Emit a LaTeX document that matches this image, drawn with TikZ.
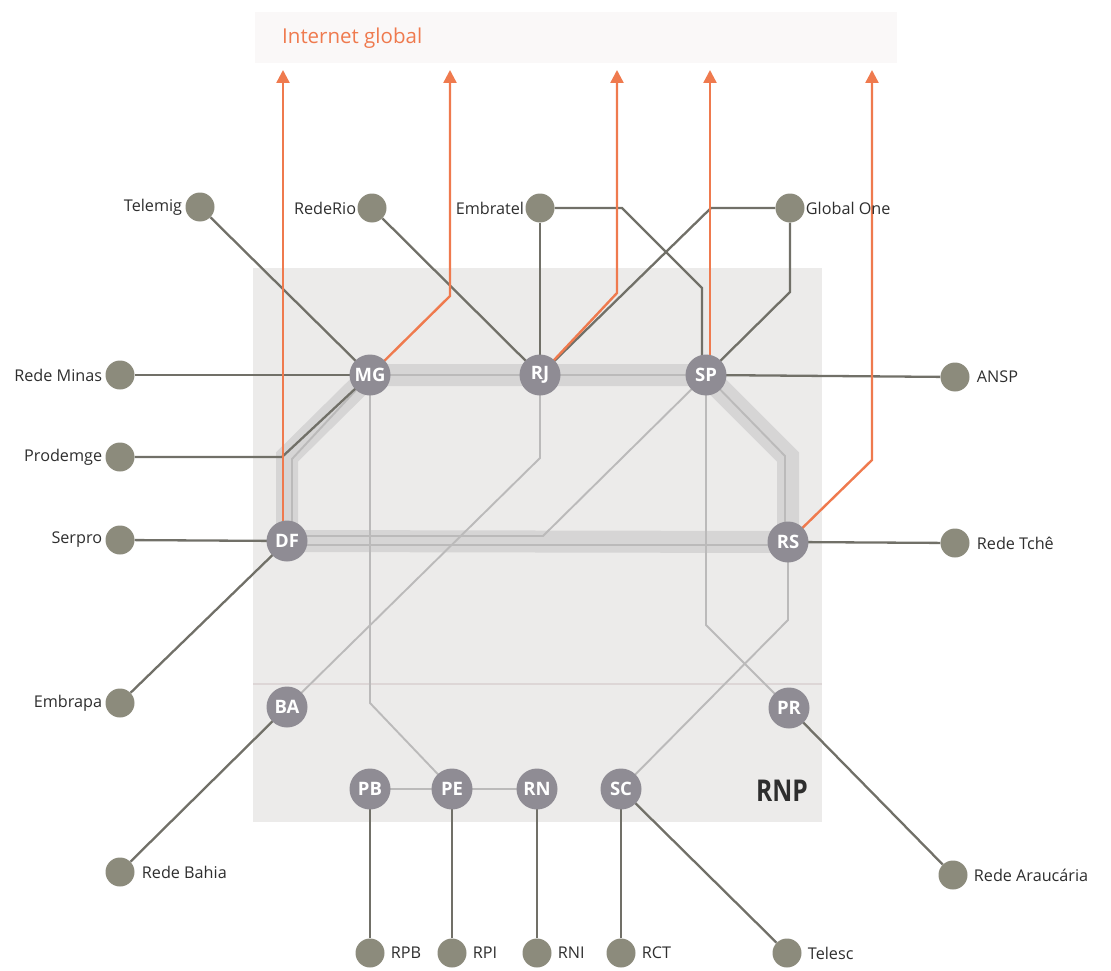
\documentclass[tikz,border=0pt]{standalone}
\usepackage{fontspec}
\setmainfont{Open Sans}
\usetikzlibrary{arrows.meta,calc}
\definecolor{boxgray}{HTML}{ECEBEA}
\definecolor{bandgray}{HTML}{D6D5D5}
\definecolor{thingray}{HTML}{BBBABA}
\definecolor{darkline}{HTML}{717068}
\definecolor{bbcol}{HTML}{8F8C94}
\definecolor{extcol}{HTML}{8C8B7C}
\definecolor{inetorange}{HTML}{EF7A4E}
\definecolor{labcol}{HTML}{2E2E2E}
\definecolor{topband}{HTML}{FAF8F8}
\definecolor{divline}{HTML}{DDD6D6}
\pgfdeclarelayer{bg}
\pgfsetlayers{bg,main}
\begin{document}
\begin{tikzpicture}[x=1pt,y=-1pt,
  bb/.style={circle, fill=bbcol, minimum size=41pt, inner sep=0pt, text=white,
    font=\bfseries\fontsize{18.5}{18.5}\selectfont},
  ext/.style={circle, fill=extcol, minimum size=29pt, inner sep=0pt},
  lab/.style={font=\fontsize{16.2}{16.2}\selectfont, text=labcol, inner sep=0pt, label distance=3pt},
  extl/.style={draw=darkline, line width=2.3pt},
  intl/.style={draw=thingray, line width=1.9pt},
  bandl/.style={draw=bandgray, line width=22pt, line join=miter},
  inet/.style={draw=inetorange, line width=2.4pt, -{Triangle[length=13pt,width=13pt]}},
]
\useasboundingbox (0,0) rectangle (1111,971);

% backbone and regional nodes
\node[bb] (mg) at (370,375) {MG};
\node[bb] (rj) at (540,375) {RJ};
\node[bb] (sp) at (706,375) {SP};
\node[bb] (df) at (287,541) {DF};
\node[bb] (rs) at (788,542) {RS};
\node[bb] (ba) at (287,707) {BA};
\node[bb] (pr) at (789,708) {PR};
\node[bb] (pb) at (370,789) {PB};
\node[bb] (pe) at (452,789) {PE};
\node[bb] (rn) at (537,789) {RN};
\node[bb] (sc) at (621,789) {SC};

% external nodes
\node[ext, label={[lab]left:Telemig}] (telemig) at (200,207) {};
\node[ext, label={[lab,label distance=1pt]left:RedeRio}] (rederio) at (372,208) {};
\node[ext, label={[lab,label distance=1pt]left:Embratel}] (embratel) at (540,208) {};
\node[ext, label={[lab,label distance=1pt]right:Global One}] (globalone) at (790,208) {};
\node[ext, label={[lab]left:Rede Minas}] (redeminas) at (120,375) {};
\node[ext, label={[lab]left:Prodemge}] (prodemge) at (120,457) {};
\node[ext, label={[lab]left:Serpro}] (serpro) at (120,540) {};
\node[ext, label={[lab]left:Embrapa}] (embrapa) at (120,703) {};
\node[ext, label={[lab,label distance=7pt]right:Rede Bahia}] (redebahia) at (120,872) {};
\node[ext, label={[lab,label distance=6pt]right:RPB}] (rpb) at (370,953) {};
\node[ext, label={[lab,label distance=6pt]right:RPI}] (rpi) at (452,953) {};
\node[ext, label={[lab,label distance=6pt]right:RNI}] (rni) at (537,953) {};
\node[ext, label={[lab,label distance=6pt]right:RCT}] (rct) at (621,953) {};
\node[ext, label={[lab,label distance=6pt]right:Telesc}] (telesc) at (787,953) {};
\node[ext, label={[lab,label distance=6pt]right:Rede Araucária}] (araucaria) at (953,875) {};
\node[ext, label={[lab,label distance=7pt]right:ANSP}] (ansp) at (955,377) {};
\node[ext, label={[lab,label distance=7pt]right:Rede Tchê}] (tche) at (955,543) {};

% texts
\node[anchor=west, inner sep=0pt, text=inetorange, font=\fontsize{20.5}{20.5}\selectfont] (inettxt) at (282,38) {Internet global};
\node[inner sep=0pt, text=labcol, font=\bfseries\fontsize{30}{30}\selectfont] (rnp) at (782,791) {\scalebox{0.82}[1]{RNP}};

% bend coordinates
\coordinate (bl) at (287,457);
\coordinate (br) at (788,457);
\coordinate (tl) at (292,459);
\coordinate (tr) at (785,456);
\coordinate (dfsp) at (543,536);
\coordinate (rjba) at (540,458);
\coordinate (mgpe) at (370,703);
\coordinate (sppr) at (706,625);
\coordinate (rssc) at (788,620);
\coordinate (prod) at (282,457);
\coordinate (emb1) at (622,208);
\coordinate (emb2) at (702,288);
\coordinate (glo1) at (711,208);
\coordinate (glo2) at (790,292);
\coordinate (i1) at (283,70);
\coordinate (i2) at (450,70);
\coordinate (i2b) at (450,296);
\coordinate (i3) at (617,70);
\coordinate (i3b) at (617,293);
\coordinate (i4) at (710,70);
\coordinate (i5) at (872,70);
\coordinate (i5b) at (872,460);

\begin{pgfonlayer}{bg}
  % backgrounds
  \fill[topband] (255,12) rectangle (897,63);
  \fill[boxgray] (253,268) rectangle (822,822);
  \draw[draw=divline, line width=1.2pt] (253,684) -- (822,684);
  % backbone band
  \draw[bandl] (df.center) -- (bl) -- (mg.center) -- (sp.center) -- (br) -- (rs.center) -- cycle;
  % internal links
  \draw[intl] ($(df.center)+(5,0)$) -- (tl) -- (mg.center);
  \draw[intl] (mg.center) -- (rj.center) -- (sp.center);
  \draw[intl] (sp.center) -- (tr) -- ($(rs.center)+(-3,0)$);
  \draw[intl] ($(df.center)+(0,4)$) -- ($(rs.center)+(0,3)$);
  \draw[intl] ($(df.center)+(0,-5)$) -- (dfsp) -- (sp.center);
  \draw[intl] (rj.center) -- (rjba) -- (ba.center);
  \draw[intl] (mg.center) -- (mgpe) -- (pe.center);
  \draw[intl] (sp.center) -- (sppr) -- (pr.center);
  \draw[intl] (rs.center) -- (rssc) -- (sc.center);
  \draw[intl] (pb.center) -- (pe.center) -- (rn.center);
  % external links
  \draw[extl] (telemig) -- (mg.center);
  \draw[extl] (rederio) -- (rj.center);
  \draw[extl] (embratel) -- (rj.center);
  \draw[extl] (embratel) -- (emb1) -- (emb2) -- (sp.center -| emb2);
  \draw[extl] (globalone) -- (glo2) -- (sp.center);
  \draw[extl] (globalone) -- (glo1) -- (rj.center);
  \draw[extl] (redeminas) -- (mg.center);
  \draw[extl] (prodemge) -- (prod) -- (mg.center);
  \draw[extl] (serpro) -- (df.center);
  \draw[extl] (embrapa) -- (df.center);
  \draw[extl] (redebahia) -- (ba.center);
  \draw[extl] (rpb) -- (pb.center);
  \draw[extl] (rpi) -- (pe.center);
  \draw[extl] (rni) -- (rn.center);
  \draw[extl] (rct) -- (sc.center);
  \draw[extl] (telesc) -- (sc.center);
  \draw[extl] (araucaria) -- (pr.center);
  \draw[extl] (ansp) -- (sp.center);
  \draw[extl] (tche) -- (rs.center);
  % internet links
  \draw[inet] (df.center -| i1) -- (i1);
  \draw[inet] (mg.center) -- (i2b) -- (i2);
  \draw[inet] (rj.center) -- (i3b) -- (i3);
  \draw[inet] (sp.center -| i4) -- (i4);
  \draw[inet] (rs.center) -- (i5b) -- (i5);
\end{pgfonlayer}
\end{tikzpicture}
\end{document}
